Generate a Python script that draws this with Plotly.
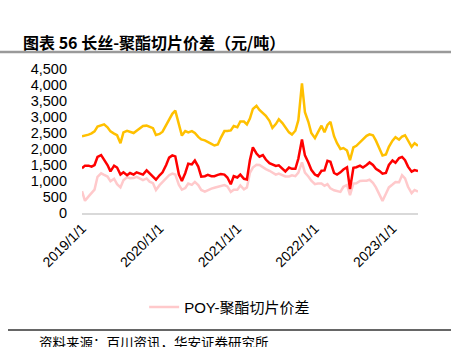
import pandas as pd
import plotly.graph_objects as go

# semi-monthly observation dates, 2019-01-01 .. 2023-05-01
dates = pd.date_range("2019-01-01", "2023-05-01", freq="SMS")

fdy_spread = [
    2400, 2420, 2450, 2490, 2550, 2700, 2750, 2770, 2680, 2550, 2480, 2430, 2180, 2520, 2570, 2530, 2500, 2570, 2660, 2720,
    2730, 2700, 2650, 2440, 2470, 2540, 2750,
    2940, 3100, 3200, 2800, 2420, 2560, 2520, 2560, 2500, 2380, 2300, 2270, 2230, 2160, 2110, 2140, 2350, 2560, 2560, 2580,
    2720, 2680, 2860, 2860, 2770, 2950,
    3250, 3350, 3220, 3120, 3040, 2880, 2660, 2780, 2930, 2810, 2660, 2520, 2450, 2570, 2900, 4050, 3150, 2850, 2500, 2340,
    2520, 2730, 2520, 2750, 2850, 2400, 2180,
    2000, 2030, 1950, 1650, 2050, 2100, 2200, 2280, 2410, 2460, 2430, 2260, 2030, 1800, 1830, 2070, 2260, 2370, 2290, 2390,
    2430, 2270, 2070, 2180, 2100,
]

dty_spread = [
    1400, 1480, 1480, 1450, 1500, 1750, 1810, 1660, 1500, 1300, 1480, 1420, 1200, 1270, 1180, 1250, 1200, 1270, 1220, 1200,
    1330, 1240, 1140, 1040, 1180, 1270, 1500,
    1730, 1800, 1770, 1200, 1000, 1250, 1540, 1520, 1640, 1450, 1135, 1150, 1190, 1150, 1150, 1190, 1220, 1200, 1110, 900,
    1150, 1110, 1200, 1070, 1050, 1650,
    2050, 1860, 1760, 1810, 1670, 1560, 1510, 1470, 1490, 1380, 1300, 1420, 1380, 1380, 1700, 2300, 1800, 1580, 1350, 1200,
    1150, 1320, 1330, 1630, 1600, 1250, 1200,
    1270, 1360, 1430, 750, 1410, 1430, 1480, 1420, 1500, 1580, 1500, 1380, 1310, 1230, 1250, 1500, 1640, 1570, 1720, 1750,
    1650, 1450, 1290, 1340, 1310,
]

poy_spread = [
    680, 380, 520, 620, 730, 1130, 1240, 1190, 1140, 990, 1070, 900, 800, 1020, 1120, 1085, 1090, 1130, 1080, 1030,
    1080, 980, 930, 720, 870, 970, 1100,
    1180, 1230, 1200, 880, 730, 780, 920, 880, 970, 870, 720, 670, 720, 760, 790, 820, 860, 870, 830, 660,
    730, 730, 860, 740, 800, 1250,
    1420, 1510, 1500, 1420, 1370, 1320, 1260, 1200, 1230, 1180, 1140, 1140, 1180, 1150, 1260, 1580, 1260, 1140, 1010, 900,
    920, 920, 850, 900, 770, 710, 680,
    660, 820, 875, 560, 920, 930, 1000, 1010, 1010, 1040, 940, 800, 560, 380, 600, 800, 890, 970, 960, 1180,
    1080, 820, 620, 720, 670,
]

tick_dates = ["2019-01-01", "2020-01-01", "2021-01-01", "2022-01-01", "2023-01-01"]
tick_text = ["2019/1/1", "2020/1/1", "2021/1/1", "2022/1/1", "2023/1/1"]
y_ticks = [0, 500, 1000, 1500, 2000, 2500, 3000, 3500, 4000, 4500]

title_text = "图表 56 长丝-聚酯切片价差（元/吨）"
source_text = "资料来源：百川资讯，华安证券研究所"
legend_name = "POY-聚酯切片价差"

fig = go.Figure()
fig.add_trace(go.Scatter(x=dates, y=poy_spread, mode="lines", name=legend_name,
                         line=dict(color="#FFC9CB", width=2.5)))
fig.add_trace(go.Scatter(x=dates, y=dty_spread, mode="lines", name="DTY", showlegend=False,
                         line=dict(color="#FF0000", width=2.5)))
fig.add_trace(go.Scatter(x=dates, y=fdy_spread, mode="lines", name="FDY", showlegend=False,
                         line=dict(color="#FFC000", width=2.5)))

sans = "Liberation Sans, Arial, Noto Sans CJK SC"

fig.update_layout(
    width=455, height=347,
    margin=dict(l=82, r=37, t=69, b=134),
    paper_bgcolor="white", plot_bgcolor="white",
    showlegend=True,
    legend=dict(orientation="h", x=0.185, xanchor="left", y=-0.655, yanchor="middle",
                font=dict(family=sans, size=15, color="black"), bgcolor="rgba(0,0,0,0)"),
    xaxis=dict(range=["2019-01-01", "2023-05-01"], tickvals=tick_dates, ticktext=tick_text,
               tickangle=-45, showgrid=False, zeroline=False, showline=True,
               linecolor="#D9D9D9", linewidth=1.5, ticks="",
               tickfont=dict(family=sans, size=14, color="black")),
    yaxis=dict(range=[0, 4500], tickvals=y_ticks, tickformat=",d", showgrid=False,
               zeroline=False, showline=False, ticks="", ticklabelstandoff=14,
               tickfont=dict(family=sans, size=14.5, color="black")),
)

fig.add_annotation(text="<b>" + title_text + "</b>", xref="paper", yref="paper",
                   x=(21 - 82) / 336, y=(213 - 42) / 144, xanchor="left", yanchor="middle",
                   showarrow=False, font=dict(family="Noto Sans CJK SC", size=16, color="black"))
fig.add_annotation(text=source_text, xref="paper", yref="paper",
                   x=(37 - 82) / 336, y=(213 - 342) / 144, xanchor="left", yanchor="middle",
                   showarrow=False, font=dict(family="Noto Sans CJK SC", size=13.5, color="black"))

fig.add_shape(type="line", xref="paper", yref="paper",
              x0=(0 - 82) / 336, x1=(451 - 82) / 336, y0=(213 - 52) / 144, y1=(213 - 52) / 144,
              line=dict(color="#9A9A9A", width=2.5))
fig.add_shape(type="line", xref="paper", yref="paper",
              x0=(8 - 82) / 336, x1=(451 - 82) / 336, y0=(213 - 330) / 144, y1=(213 - 330) / 144,
              line=dict(color="#333333", width=1.5))

fig.write_html("out.html")
